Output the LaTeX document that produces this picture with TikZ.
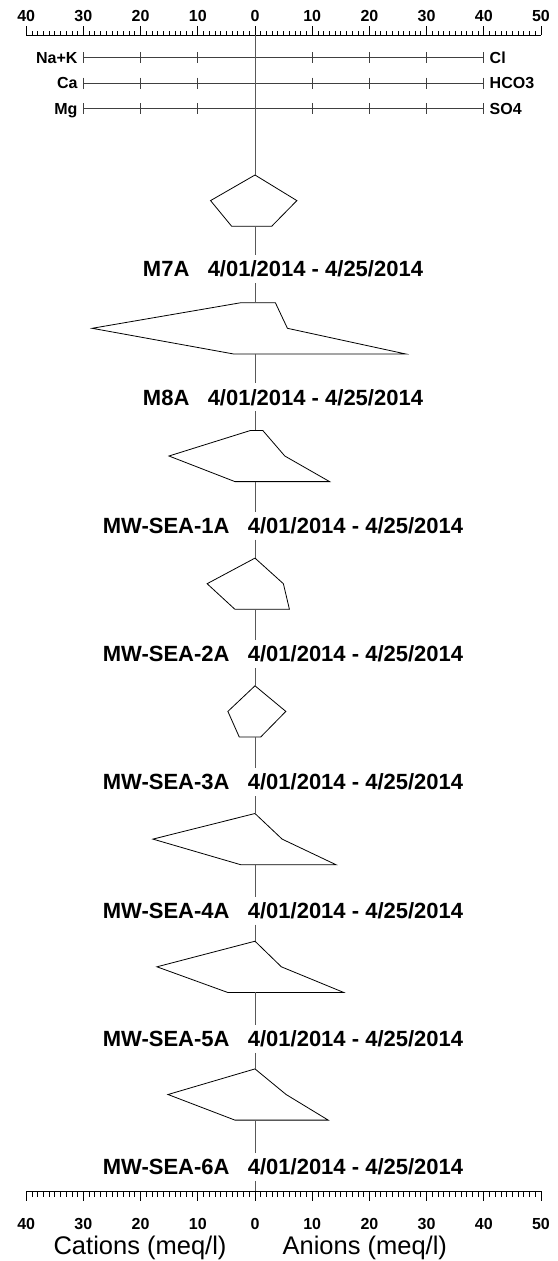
\documentclass[tikz,border=0pt]{standalone}
\usepackage{fontspec}
\setmainfont{Liberation Sans}
\usepackage{tikz}

\begin{document}
\begin{tikzpicture}
[x=5.72pt,y=-1pt]
\tikzset{
	axisline/.style = {draw=black, line width=0.8pt},
	cline/.style = {draw=black!65, line width=0.9pt},
	legline/.style = {draw=black!75, line width=0.8pt},
	stiffpoly/.style = {draw=black, fill=white, line width=0.8pt, line join=miter},
	ticknum/.style = {font=\fontsize{16}{18}\selectfont\bfseries, inner sep=0, anchor=base},
	ionlabel/.style = {font=\fontsize{16}{18}\selectfont\bfseries, inner sep=0},
	samplelabel/.style = {font=\fontsize{22}{24}\selectfont\bfseries, inner sep=0},
	axistitle/.style = {font=\fontsize{25.5}{28}\selectfont, inner sep=0, anchor=base}
}
\useasboundingbox (-44.58,0) rectangle (52.97,1261);

% top scale
\coordinate (axTL) at (-40,35);
\coordinate (axTR) at (50,35);
\coordinate (axTC) at (0,35);
\draw[axisline] (axTL) -- (axTR);
\foreach \v in {-40,...,50}
	\draw[axisline] (\v,35) -- (\v,30.5);
\foreach \v [evaluate=\v as \n using {int(abs(\v))}] in {-40,-30,...,50}{
	\draw[axisline] (\v,35) -- (\v,26);
	\node[ticknum] at (\v,21) {\n};
}

% bottom scale
\coordinate (axBL) at (-40,1191);
\coordinate (axBR) at (50,1191);
\coordinate (axBC) at (0,1191);
\draw[axisline] (axBL) -- (axBR);
\foreach \v in {-40,...,50}
	\draw[axisline] (\v,1191) -- (\v,1196.5);
\foreach \v [evaluate=\v as \n using {int(abs(\v))}] in {-40,-30,...,50}{
	\draw[axisline] (\v,1191) -- (\v,1201);
	\node[ticknum] at (\v,1229.5) {\n};
}
\node[axistitle] (cat) at (-20.1,1254) {Cations (meq/l)};
\node[axistitle] (an) at (19.2,1254) {Anions (meq/l)};

% legend rows
\foreach \r/\cat/\an in {57.5/Na+K/Cl, 83/Ca/HCO3, 108.5/Mg/SO4}{
	\draw[legline] (-30,\r) -- (40,\r);
	\foreach \v in {-30,-20,...,40}
		\draw[legline] (\v,\r-5.5) -- (\v,\r+5.5);
	\node[ionlabel, anchor=base east] at (-31,\r+5.7) {\cat};
	\node[ionlabel, anchor=base west] at (41,\r+5.7) {\an};
}

% stiff diagrams
\foreach \i/\name/\nak/\cl/\ca/\hc/\mg/\so in {
	0/M7A/0/0/-7.77/7.32/-4.09/2.93,
	1/M8A/-2.46/3.56/-28.47/5.67/-3.81/26.3,
	2/MW-SEA-1A/-0.75/1.35/-15.04/5.21/-3.51/13.04,
	3/MW-SEA-2A/0/0/-8.37/4.96/-3.51/6.02,
	4/MW-SEA-3A/0/0/-4.74/5.39/-2.75/1.0,
	5/MW-SEA-4A/0/0/-17.84/4.74/-2.5/14.16,
	6/MW-SEA-5A/0/0/-17.14/4.61/-4.79/15.49,
	7/MW-SEA-6A/0/0/-15.21/5.44/-3.51/12.8}{
	\pgfmathsetmacro{\y}{175+127.7*\i}
	\pgfmathsetmacro{\ly}{\y+94+0.6*\i}
	\draw[stiffpoly] (\nak,\y) -- (\ca,\y+25.6) -- (\mg,\y+51.2)
		-- (\so,\y+51.2) -- (\hc,\y+25.6) -- (\cl,\y) -- cycle;
	\coordinate (top\i) at (0,\y);
	\coordinate (bot\i) at (0,\y+51.2);
	\node[samplelabel] (lab\i) at (4.9,\ly) {\name~~~4/01/2014 - 4/25/2014};
	\coordinate (above\i) at (0,\ly-14);
	\coordinate (below\i) at (0,\ly+14);
	\draw[cline] (bot\i) -- (above\i);
}

% centre line
\draw[cline] (axTC) -- (top0);
\foreach \i [count=\j] in {0,...,6}
	\draw[cline] (below\i) -- (top\j);
\draw[cline] (below7) -- (axBC);

\end{tikzpicture}
\end{document}
